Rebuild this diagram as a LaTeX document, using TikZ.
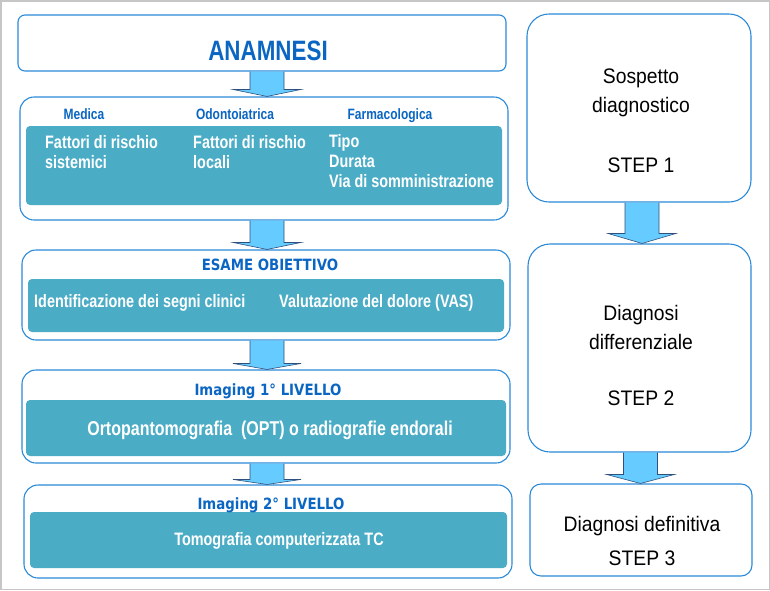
\documentclass[tikz,border=0pt]{standalone}
\usepackage{fontspec}
\setmainfont{Liberation Sans}
\newfontfamily\narrowsf[FakeStretch=0.8]{Liberation Sans}
\newfontfamily\stepsf[FakeStretch=0.92]{Liberation Sans}
\newfontfamily\levelsf[FakeStretch=0.86]{DejaVu Sans}
\usetikzlibrary{calc,
	positioning}

\definecolor{frameblue}{HTML}{2B8AD8}
\definecolor{titleblue}{HTML}{0A66C2}
\definecolor{tealfill}{HTML}{4BACC6}
\definecolor{arrowfill}{HTML}{66CCFF}
\definecolor{arrowline}{HTML}{2F4F7F}

\tikzset{
	outerbox/.style={draw=frameblue, line width=1.1pt, fill=white, rounded corners=#1, inner sep=0pt},
	outerbox/.default=12pt,
	innerbox/.style={fill=tealfill, rounded corners=4pt, inner sep=0pt},
	headtext/.style={text=titleblue, font=\narrowsf\bfseries\fontsize{15}{18}\selectfont, inner sep=0pt, anchor=base},
	leveltext/.style={text=titleblue, font=\levelsf\bfseries\fontsize{15.5}{18}\selectfont, inner sep=0pt, anchor=base},
	whitetext/.style={text=white, font=\narrowsf\bfseries\fontsize{18}{20}\selectfont, inner sep=0pt, align=left, anchor=base west},
	steptext/.style={font=\stepsf\fontsize{21}{29}\selectfont, inner sep=0pt, align=center, anchor=base},
	fatarrow/.style={fill=arrowfill, draw=arrowline, line width=0.6pt, line join=miter}
}

% block arrow from the bottom of #2 to the top of #3, head length #4
\newcommand{\fatarrow}[4][0pt]{
	\draw[fatarrow] let \p1=(#2.south), \p2=(#3.north) in
		(\x1+#1-17pt,\y1) -- (\x1+#1-17pt,\y2+#4) -- (\x1+#1-34pt,\y2+#4) -- (\x1+#1,\y2)
		-- (\x1+#1+34pt,\y2+#4) -- (\x1+#1+17pt,\y2+#4) -- (\x1+#1+17pt,\y1);
}

\begin{document}
\begin{tikzpicture}[x=1pt, y=-1pt]
	\useasboundingbox (0,0) rectangle (770,590);
	\draw[gray!45, line width=1.5pt] (0.75,0.75) rectangle (769.25,589.25);

	% left column
	\node[outerbox=7pt, minimum width=488pt, minimum height=56pt] (anam) at (262,43) {};
	\node[text=titleblue, font=\narrowsf\bfseries\fontsize{28}{30}\selectfont, inner sep=0pt, anchor=base] (anamtitle) at (268,60) {ANAMNESI};

	\node[outerbox=14pt, minimum width=488pt, minimum height=123pt] (anamdet) at (264,158.5) {};
	\node[innerbox, minimum width=476pt, minimum height=79pt] (anamin) at (264,165.5) {};
	\node[headtext] (medica) at (84,119) {Medica};
	\node[headtext] (odonto) at (235,119) {Odontoiatrica};
	\node[headtext] (farmaco) at (390,119) {Farmacologica};
	\node[whitetext] (sistemici) at (45,168) {Fattori di rischio\\sistemici};
	\node[whitetext] (locali) at (193,168) {Fattori di rischio\\locali};
	\node[whitetext] (tipo) at (329,187) {Tipo\\Durata\\Via di somministrazione};

	\node[outerbox=14pt, minimum width=488pt, minimum height=90pt] (esame) at (266,295) {};
	\node[innerbox, minimum width=476pt, minimum height=53pt] (esamein) at (266,305.5) {};
	\node[leveltext] (esametitle) at (270,270) {ESAME OBIETTIVO};
	\node[whitetext] (segni) at (34,307) {Identificazione dei segni clinici};
	\node[whitetext] (vas) at (279,307) {Valutazione del dolore (VAS)};

	\node[outerbox=14pt, minimum width=488pt, minimum height=93pt] (imgone) at (266,416.5) {};
	\node[innerbox, minimum width=480pt, minimum height=56pt] (imgonein) at (266,428) {};
	\node[leveltext] (imgonetitle) at (268,395) {Imaging 1° LIVELLO};
	\node[whitetext, font=\narrowsf\bfseries\fontsize{20}{24}\selectfont, anchor=base] (opt) at (270,435) {Ortopantomografia~~(OPT) o radiografie endorali};

	\node[outerbox=14pt, minimum width=488pt, minimum height=93pt] (imgtwo) at (268,531.5) {};
	\node[innerbox, minimum width=477pt, minimum height=56pt] (imgtwoin) at (268.5,540) {};
	\node[leveltext] (imgtwotitle) at (271,509) {Imaging 2° LIVELLO};
	\node[whitetext, anchor=base] (tc) at (279,545) {Tomografia computerizzata TC};

	\fatarrow[5pt]{anam}{anamdet}{7pt}
	\fatarrow[3pt]{anamdet}{esame}{7pt}
	\fatarrow[1pt]{esame}{imgone}{6pt}
	\fatarrow[1pt]{imgone}{imgtwo}{5pt}

	% right column
	\node[outerbox=22pt, minimum width=224pt, minimum height=188pt] (stepone) at (639,108) {};
	\node[steptext] (steponet) at (641,172) {Sospetto\\diagnostico\\[31pt]STEP 1};

	\node[outerbox=22pt, minimum width=223pt, minimum height=208pt] (steptwo) at (639.5,348) {};
	\node[steptext] (steptwot) at (641,405) {Diagnosi\\differenziale\\[27pt]STEP 2};

	\node[outerbox=11pt, minimum width=222pt, minimum height=92pt] (stepthree) at (641,530) {};
	\node[steptext] (stepthreet) at (642,565) {Diagnosi definitiva\\[5pt]STEP 3};

	\fatarrow[3pt]{stepone}{steptwo}{10pt}
	\fatarrow[1pt]{steptwo}{stepthree}{9pt}
\end{tikzpicture}
\end{document}
